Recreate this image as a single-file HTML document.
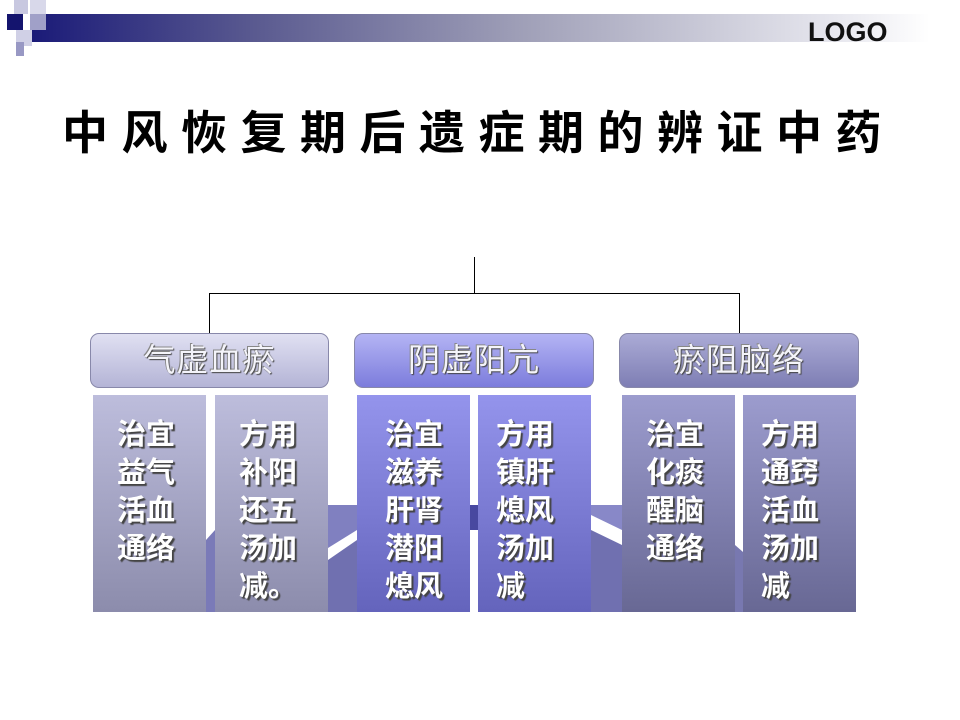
<!DOCTYPE html>
<html><head><meta charset="utf-8"><style>
body{margin:0;width:960px;height:720px;background:#fff;position:relative;overflow:hidden;font-family:"Liberation Sans","Noto Sans CJK SC",sans-serif}
.a{position:absolute}
.bar{left:30px;top:14px;width:900px;height:28px;background:linear-gradient(90deg,#1a1a78 0%,#5a5a90 25%,#a0a0b8 55%,#e8e8ef 90%,#fff 100%)}
.sq{position:absolute;width:16px;height:16px}
.logo{left:808px;top:17px;font:bold 27px "Liberation Sans",sans-serif;color:#111}
.title{left:62px;top:97px;font-size:46px;font-weight:bold;letter-spacing:13.5px;color:#000;white-space:nowrap;font-family:"Liberation Sans","Noto Sans CJK SC",sans-serif}
.hd{position:absolute;top:333px;height:55px;border-radius:9px;border:1px solid #8888aa;box-sizing:border-box;text-align:center;line-height:52px;font-size:32px;color:#f4f4fa;text-shadow:1px 1px 1px #444,-1px -1px 0 #888;letter-spacing:1px}
.col{position:absolute;top:395px;width:113px;height:217px;box-sizing:border-box;color:#fff;font-weight:bold;font-size:29px;line-height:38px;text-align:left;padding-top:21px;padding-left:24px;text-shadow:2px 2px 1px #444}
</style></head><body>
<div class="a bar"></div>
<div class="sq" style="left:14px;top:0;background:#c8c8e0;width:14px;height:14px"></div>
<div class="sq" style="left:7px;top:14px;background:#14146e"></div>
<div class="sq" style="left:30px;top:0;background:#d8d8ea"></div>
<div class="sq" style="left:30px;top:14px;background:#a0a0c8"></div>
<div class="sq" style="left:16px;top:30px;background:#d0d0e6"></div>
<div class="sq" style="left:16px;top:42px;background:#9898c4;width:8px;height:14px"></div>
<div class="a logo">LOGO</div>
<div class="a title">中风恢复期后遗症期的辨证中药</div>
<svg class="a" style="left:0;top:0" width="960" height="720">
<line x1="474.5" y1="257" x2="474.5" y2="293" stroke="#000"/>
<line x1="209" y1="293.5" x2="740" y2="293.5" stroke="#000"/>
<line x1="209.5" y1="293" x2="209.5" y2="333" stroke="#000"/>
<line x1="739.5" y1="293" x2="739.5" y2="333" stroke="#000"/>
<polygon points="206,540 215,530 215,612 206,612" fill="#7a7ab8"/>
<polygon points="328,505 357,505 357,530 328,548" fill="#8080c0"/>
<polygon points="328,560 357,540 357,612 328,612" fill="#7070b0"/>
<polygon points="470,505 478,505 478,530 470,530" fill="#4848a0"/>
<polygon points="591,505 622,505 622,530 591,515" fill="#8888c8"/>
<polygon points="591,530 622,545 622,612 591,612" fill="#7070b0"/>
<polygon points="735,545 743,552 743,612 735,612" fill="#7878b0"/>
</svg>
<div class="hd" style="left:90px;width:239px;background:linear-gradient(#e0e0f2,#b4b4d6)">气虚血瘀</div>
<div class="hd" style="left:354px;width:240px;background:linear-gradient(#b4b4f4,#7c7cdc)">阴虚阳亢</div>
<div class="hd" style="left:619px;width:240px;background:linear-gradient(#ababd6,#7e7eb4)">瘀阻脑络</div>
<div class="col" style="left:93px;background:linear-gradient(#bdbddc,#8c8cac)">治宜<br>益气<br>活血<br>通络</div>
<div class="col" style="left:215px;background:linear-gradient(#bdbddc,#8c8cac)">方用<br>补阳<br>还五<br>汤加<br>减。</div>
<div class="col" style="left:357px;padding-left:28px;background:linear-gradient(#9494ec,#6464bc)">治宜<br>滋养<br>肝肾<br>潜阳<br>熄风</div>
<div class="col" style="left:478px;padding-left:18px;background:linear-gradient(#9494ec,#6464bc)">方用<br>镇肝<br>熄风<br>汤加<br>减</div>
<div class="col" style="left:622px;background:linear-gradient(#9c9cce,#686894)">治宜<br>化痰<br>醒脑<br>通络</div>
<div class="col" style="left:743px;padding-left:18px;background:linear-gradient(#9c9cce,#686894)">方用<br>通窍<br>活血<br>汤加<br>减</div>
</body></html>
